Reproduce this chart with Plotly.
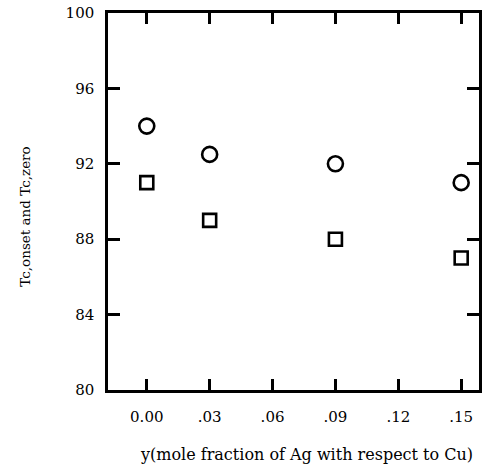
import plotly.graph_objects as go

# data
ag_fraction = [0.00, 0.03, 0.09, 0.15]
tc_onset = [94.0, 92.5, 92.0, 91.0]
tc_zero = [91.0, 89.0, 88.0, 87.0]
x_tick_vals = [0.00, 0.03, 0.06, 0.09, 0.12, 0.15]
x_tick_text = ["0.00", ".03", ".06", ".09", ".12", ".15"]
y_tick_vals = [80, 84, 88, 92, 96, 100]

FONT = "DejaVu Serif, Liberation Serif, serif"

fig = go.Figure()
fig.add_trace(go.Scatter(
    x=ag_fraction, y=tc_onset, mode="markers", name="Tc,onset",
    marker=dict(symbol="circle-open", size=15, color="black", line=dict(width=2.6, color="black")),
))
fig.add_trace(go.Scatter(
    x=ag_fraction, y=tc_zero, mode="markers", name="Tc,zero",
    marker=dict(symbol="square-open", size=13, color="black", line=dict(width=2.6, color="black")),
))

fig.update_layout(
    width=485, height=466,
    margin=dict(l=108, r=3, t=13, b=76),
    paper_bgcolor="white", plot_bgcolor="white",
    showlegend=False,
    font=dict(family=FONT, size=15, color="black"),
    xaxis=dict(
        range=[-0.0185, 0.1585], tickvals=x_tick_vals, ticktext=x_tick_text,
        ticks="inside", ticklen=11, tickwidth=2.5, tickcolor="black",
        showline=True, linecolor="black", linewidth=2.5, mirror="ticks",
        showgrid=False, zeroline=False, ticklabelstandoff=11,
        tickfont=dict(family=FONT, size=15),
    ),
    yaxis=dict(
        range=[80, 100], tickvals=y_tick_vals,
        ticks="inside", ticklen=12, tickwidth=2.5, tickcolor="black",
        showline=True, linecolor="black", linewidth=2.5, mirror="ticks",
        showgrid=False, zeroline=False, ticklabelstandoff=8,
        tickfont=dict(family=FONT, size=15),
    ),
)

fig.add_annotation(
    text="y(mole fraction of Ag with respect to Cu)",
    xref="paper", yref="paper", x=0.535, y=-0.172, xanchor="center", yanchor="middle",
    showarrow=False, font=dict(family=FONT, size=16, color="black"),
)
fig.add_annotation(
    text="Tc,onset and Tc,zero",
    xref="paper", yref="paper", x=-0.226, y=0.46, xanchor="center", yanchor="middle",
    textangle=-90, showarrow=False, font=dict(family=FONT, size=13.5, color="black"),
)

fig.write_html(
    "out.html",
    config={"displayModeBar": False},
    post_script="document.body.style.margin='0';document.body.style.overflow='hidden';",
)
